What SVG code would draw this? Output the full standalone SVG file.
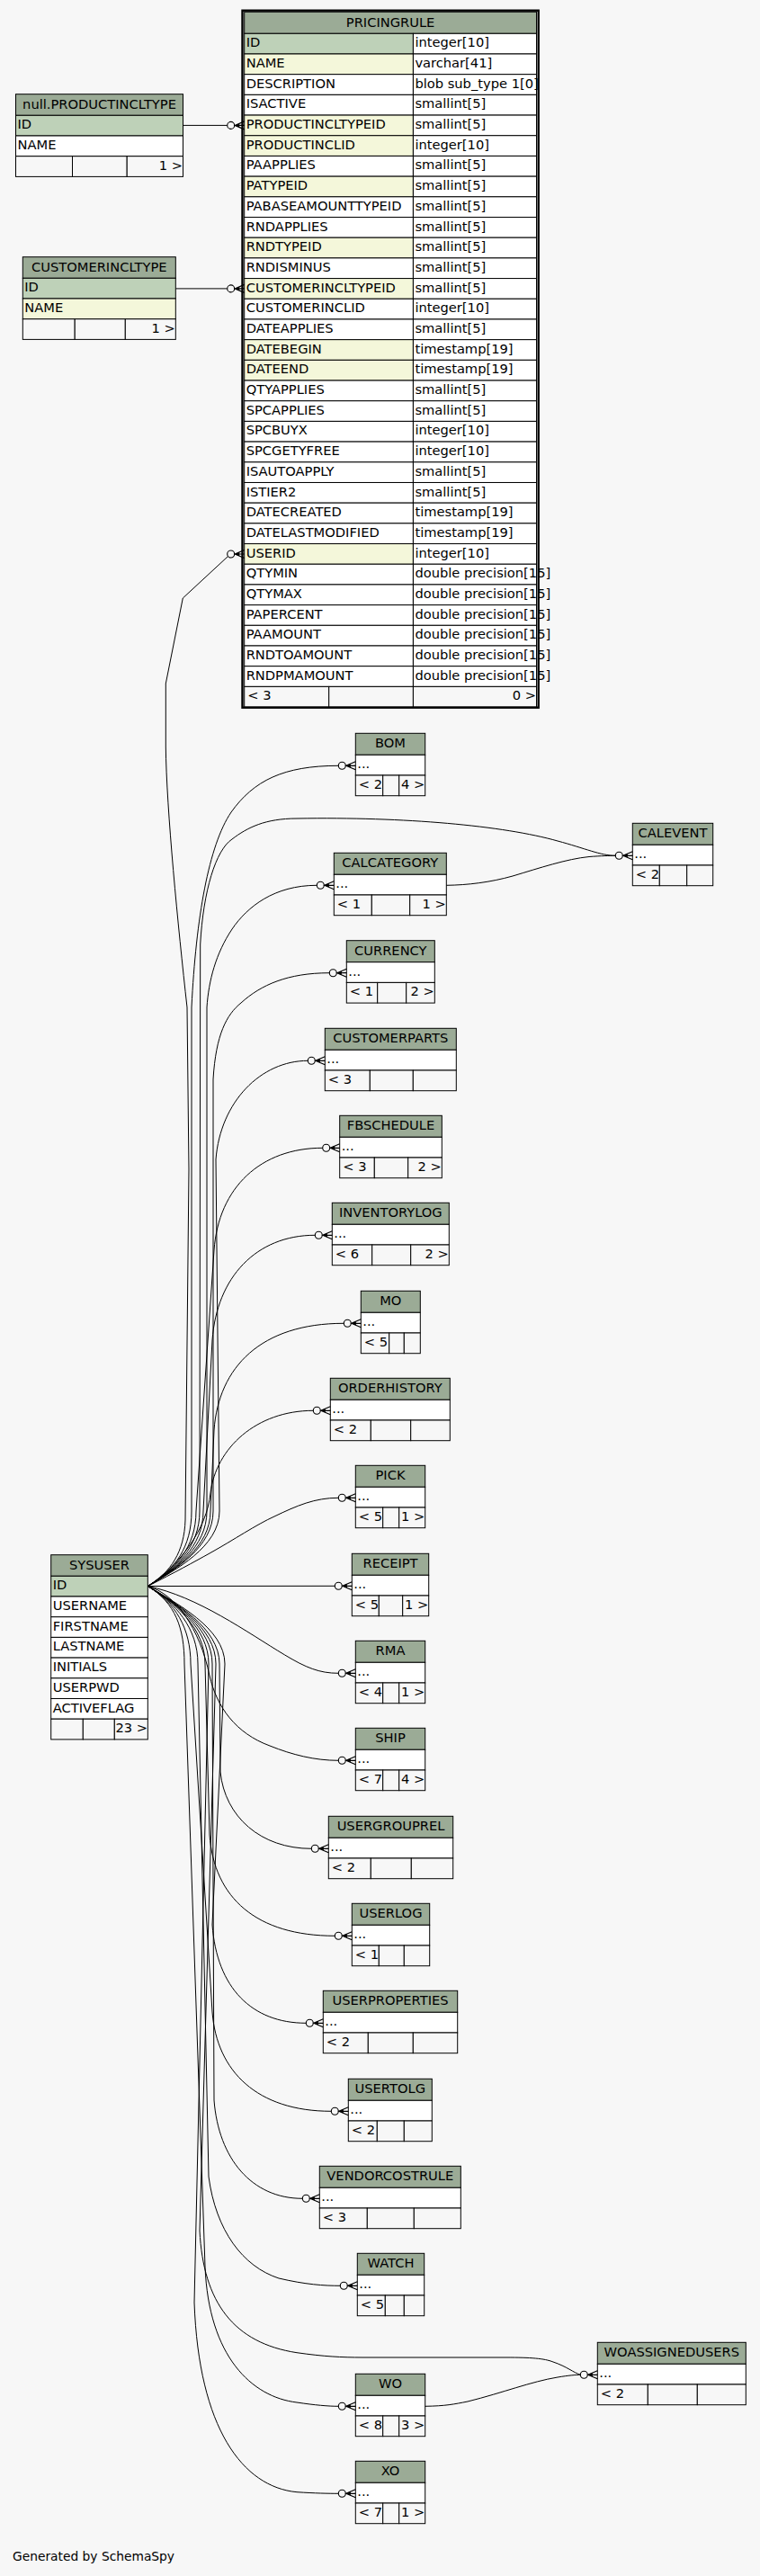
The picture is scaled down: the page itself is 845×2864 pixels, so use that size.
<svg xmlns="http://www.w3.org/2000/svg" width="845" height="2864" viewBox="0 0 845 2864">
<style>
text{font-family:"DejaVu Sans","Liberation Sans",sans-serif;font-size:14.67px;fill:#000}
.m{text-anchor:middle}.r{text-anchor:end}
.h{fill:#9bab96;stroke:#000;stroke-width:1}
.c{fill:#fff;stroke:#000;stroke-width:1}
.pk{fill:#bed1b8;stroke:#000;stroke-width:1}
.fk{fill:#f4f7da;stroke:#000;stroke-width:1}
.f{fill:#f7f7f7;stroke:#000;stroke-width:1}
.e{fill:none;stroke:#000;stroke-width:1}
.gen{font-size:13.8px}
</style>
<defs>
<g id="cf">
<circle cx="0" cy="0" r="4" fill="none" stroke="#000" stroke-width="1.1"/>
<path d="M15,-4.5 L4.5,0 L15,4.5 M4.5,0 H15" fill="none" stroke="#000" stroke-width="1.2"/>
<polygon points="4.5,0 9.5,-2.2 9.5,2.2" fill="#000"/>
</g>
</defs>
<rect x="0" y="0" width="845" height="2864" fill="#f7f7f7"/>

<g id="PRICINGRULE">
<rect class="h" x="271.7" y="13.3" width="324.8" height="24"/>
<g>
<rect class="pk" x="271.7" y="37.3" width="187.7" height="22.69"/><rect class="c" x="459.4" y="37.3" width="137.1" height="22.69"/>
<rect class="fk" x="271.7" y="59.99" width="187.7" height="22.69"/><rect class="c" x="459.4" y="59.99" width="137.1" height="22.69"/>
<rect class="c" x="271.7" y="82.68" width="187.7" height="22.69"/><rect class="c" x="459.4" y="82.68" width="137.1" height="22.69"/>
<rect class="c" x="271.7" y="105.37" width="187.7" height="22.69"/><rect class="c" x="459.4" y="105.37" width="137.1" height="22.69"/>
<rect class="fk" x="271.7" y="128.06" width="187.7" height="22.69"/><rect class="c" x="459.4" y="128.06" width="137.1" height="22.69"/>
<rect class="fk" x="271.7" y="150.75" width="187.7" height="22.69"/><rect class="c" x="459.4" y="150.75" width="137.1" height="22.69"/>
<rect class="c" x="271.7" y="173.44" width="187.7" height="22.69"/><rect class="c" x="459.4" y="173.44" width="137.1" height="22.69"/>
<rect class="fk" x="271.7" y="196.13" width="187.7" height="22.69"/><rect class="c" x="459.4" y="196.13" width="137.1" height="22.69"/>
<rect class="c" x="271.7" y="218.82" width="187.7" height="22.69"/><rect class="c" x="459.4" y="218.82" width="137.1" height="22.69"/>
<rect class="c" x="271.7" y="241.51" width="187.7" height="22.69"/><rect class="c" x="459.4" y="241.51" width="137.1" height="22.69"/>
<rect class="fk" x="271.7" y="264.2" width="187.7" height="22.69"/><rect class="c" x="459.4" y="264.2" width="137.1" height="22.69"/>
<rect class="c" x="271.7" y="286.89" width="187.7" height="22.69"/><rect class="c" x="459.4" y="286.89" width="137.1" height="22.69"/>
<rect class="fk" x="271.7" y="309.58" width="187.7" height="22.69"/><rect class="c" x="459.4" y="309.58" width="137.1" height="22.69"/>
<rect class="c" x="271.7" y="332.27" width="187.7" height="22.69"/><rect class="c" x="459.4" y="332.27" width="137.1" height="22.69"/>
<rect class="c" x="271.7" y="354.96" width="187.7" height="22.69"/><rect class="c" x="459.4" y="354.96" width="137.1" height="22.69"/>
<rect class="fk" x="271.7" y="377.65" width="187.7" height="22.69"/><rect class="c" x="459.4" y="377.65" width="137.1" height="22.69"/>
<rect class="fk" x="271.7" y="400.34" width="187.7" height="22.69"/><rect class="c" x="459.4" y="400.34" width="137.1" height="22.69"/>
<rect class="c" x="271.7" y="423.03" width="187.7" height="22.69"/><rect class="c" x="459.4" y="423.03" width="137.1" height="22.69"/>
<rect class="c" x="271.7" y="445.72" width="187.7" height="22.69"/><rect class="c" x="459.4" y="445.72" width="137.1" height="22.69"/>
<rect class="c" x="271.7" y="468.41" width="187.7" height="22.69"/><rect class="c" x="459.4" y="468.41" width="137.1" height="22.69"/>
<rect class="c" x="271.7" y="491.1" width="187.7" height="22.69"/><rect class="c" x="459.4" y="491.1" width="137.1" height="22.69"/>
<rect class="c" x="271.7" y="513.79" width="187.7" height="22.69"/><rect class="c" x="459.4" y="513.79" width="137.1" height="22.69"/>
<rect class="c" x="271.7" y="536.48" width="187.7" height="22.69"/><rect class="c" x="459.4" y="536.48" width="137.1" height="22.69"/>
<rect class="c" x="271.7" y="559.17" width="187.7" height="22.69"/><rect class="c" x="459.4" y="559.17" width="137.1" height="22.69"/>
<rect class="c" x="271.7" y="581.86" width="187.7" height="22.69"/><rect class="c" x="459.4" y="581.86" width="137.1" height="22.69"/>
<rect class="fk" x="271.7" y="604.55" width="187.7" height="22.69"/><rect class="c" x="459.4" y="604.55" width="137.1" height="22.69"/>
<rect class="c" x="271.7" y="627.24" width="187.7" height="22.69"/><rect class="c" x="459.4" y="627.24" width="137.1" height="22.69"/>
<rect class="c" x="271.7" y="649.93" width="187.7" height="22.69"/><rect class="c" x="459.4" y="649.93" width="137.1" height="22.69"/>
<rect class="c" x="271.7" y="672.62" width="187.7" height="22.69"/><rect class="c" x="459.4" y="672.62" width="137.1" height="22.69"/>
<rect class="c" x="271.7" y="695.31" width="187.7" height="22.69"/><rect class="c" x="459.4" y="695.31" width="137.1" height="22.69"/>
<rect class="c" x="271.7" y="718" width="187.7" height="22.69"/><rect class="c" x="459.4" y="718" width="137.1" height="22.69"/>
<rect class="c" x="271.7" y="740.69" width="187.7" height="22.69"/><rect class="c" x="459.4" y="740.69" width="137.1" height="22.69"/>
<rect class="f" x="271.7" y="763.38" width="94" height="22.69"/><rect class="f" x="365.7" y="763.38" width="93.7" height="22.69"/><rect class="f" x="459.4" y="763.38" width="137.1" height="22.69"/>
</g>
<text class="m" x="434.1" y="29.6">PRICINGRULE</text>
<text x="273.7" y="52.3">ID</text><text x="461.4" y="52.3">integer[10]</text>
<text x="273.7" y="75">NAME</text><text x="461.4" y="75">varchar[41]</text>
<text x="273.7" y="97.7">DESCRIPTION</text><text x="461.4" y="97.7">blob sub_type 1[0]</text>
<text x="273.7" y="120.4">ISACTIVE</text><text x="461.4" y="120.4">smallint[5]</text>
<text x="273.7" y="143.1">PRODUCTINCLTYPEID</text><text x="461.4" y="143.1">smallint[5]</text>
<text x="273.7" y="165.8">PRODUCTINCLID</text><text x="461.4" y="165.8">integer[10]</text>
<text x="273.7" y="188.4">PAAPPLIES</text><text x="461.4" y="188.4">smallint[5]</text>
<text x="273.7" y="211.1">PATYPEID</text><text x="461.4" y="211.1">smallint[5]</text>
<text x="273.7" y="233.8">PABASEAMOUNTTYPEID</text><text x="461.4" y="233.8">smallint[5]</text>
<text x="273.7" y="256.5">RNDAPPLIES</text><text x="461.4" y="256.5">smallint[5]</text>
<text x="273.7" y="279.2">RNDTYPEID</text><text x="461.4" y="279.2">smallint[5]</text>
<text x="273.7" y="301.9">RNDISMINUS</text><text x="461.4" y="301.9">smallint[5]</text>
<text x="273.7" y="324.6">CUSTOMERINCLTYPEID</text><text x="461.4" y="324.6">smallint[5]</text>
<text x="273.7" y="347.3">CUSTOMERINCLID</text><text x="461.4" y="347.3">integer[10]</text>
<text x="273.7" y="370">DATEAPPLIES</text><text x="461.4" y="370">smallint[5]</text>
<text x="273.7" y="392.7">DATEBEGIN</text><text x="461.4" y="392.7">timestamp[19]</text>
<text x="273.7" y="415.3">DATEEND</text><text x="461.4" y="415.3">timestamp[19]</text>
<text x="273.7" y="438">QTYAPPLIES</text><text x="461.4" y="438">smallint[5]</text>
<text x="273.7" y="460.7">SPCAPPLIES</text><text x="461.4" y="460.7">smallint[5]</text>
<text x="273.7" y="483.4">SPCBUYX</text><text x="461.4" y="483.4">integer[10]</text>
<text x="273.7" y="506.1">SPCGETYFREE</text><text x="461.4" y="506.1">integer[10]</text>
<text x="273.7" y="528.8">ISAUTOAPPLY</text><text x="461.4" y="528.8">smallint[5]</text>
<text x="273.7" y="551.5">ISTIER2</text><text x="461.4" y="551.5">smallint[5]</text>
<text x="273.7" y="574.2">DATECREATED</text><text x="461.4" y="574.2">timestamp[19]</text>
<text x="273.7" y="596.9">DATELASTMODIFIED</text><text x="461.4" y="596.9">timestamp[19]</text>
<text x="273.7" y="619.6">USERID</text><text x="461.4" y="619.6">integer[10]</text>
<text x="273.7" y="642.2">QTYMIN</text><text x="461.4" y="642.2">double precision[15]</text>
<text x="273.7" y="664.9">QTYMAX</text><text x="461.4" y="664.9">double precision[15]</text>
<text x="273.7" y="687.6">PAPERCENT</text><text x="461.4" y="687.6">double precision[15]</text>
<text x="273.7" y="710.3">PAAMOUNT</text><text x="461.4" y="710.3">double precision[15]</text>
<text x="273.7" y="733">RNDTOAMOUNT</text><text x="461.4" y="733">double precision[15]</text>
<text x="273.7" y="755.7">RNDPMAMOUNT</text><text x="461.4" y="755.7">double precision[15]</text>
<text x="275.2" y="778.4">&lt; 3</text><text class="r" x="596" y="778.4">0 &gt;</text>
<rect x="269.5" y="11.7" width="329.2" height="775" fill="none" stroke="#000" stroke-width="2.4"/>
</g>

<g id="PRODUCTINCLTYPE">
<rect class="h" x="17.5" y="104.7" width="186" height="23.6"/>
<rect class="pk" x="17.5" y="128.3" width="186" height="22.7"/>
<rect class="c" x="17.5" y="151" width="186" height="22.7"/>
<rect class="f" x="17.5" y="173.7" width="63" height="22.7"/><rect class="f" x="80.5" y="173.7" width="60.7" height="22.7"/><rect class="f" x="141.2" y="173.7" width="62.3" height="22.7"/>
<text class="m" x="110.5" y="120.7">null.PRODUCTINCLTYPE</text>
<text x="19.5" y="143.3">ID</text>
<text x="19.5" y="166">NAME</text>
<text class="r" x="203" y="188.7">1 &gt;</text>
</g>

<g id="CUSTOMERINCLTYPE">
<rect class="h" x="25.3" y="285.7" width="170" height="23.6"/>
<rect class="pk" x="25.3" y="309.3" width="170" height="22.7"/>
<rect class="fk" x="25.3" y="332" width="170" height="22.7"/>
<rect class="f" x="25.3" y="354.7" width="57.9" height="22.7"/><rect class="f" x="83.2" y="354.7" width="56.1" height="22.7"/><rect class="f" x="139.3" y="354.7" width="56" height="22.7"/>
<text class="m" x="110.3" y="301.7">CUSTOMERINCLTYPE</text>
<text x="27.3" y="324.3">ID</text>
<text x="27.3" y="347">NAME</text>
<text class="r" x="194.8" y="369.7">1 &gt;</text>
</g>

<g id="SYSUSER">
<rect class="h" x="56.7" y="1728.7" width="107.6" height="23.6"/>
<rect class="pk" x="56.7" y="1752.3" width="107.6" height="22.7"/>
<rect class="c" x="56.7" y="1775" width="107.6" height="22.7"/>
<rect class="c" x="56.7" y="1797.7" width="107.6" height="22.7"/>
<rect class="c" x="56.7" y="1820.4" width="107.6" height="22.7"/>
<rect class="c" x="56.7" y="1843.1" width="107.6" height="22.7"/>
<rect class="c" x="56.7" y="1865.8" width="107.6" height="22.7"/>
<rect class="c" x="56.7" y="1888.5" width="107.6" height="22.7"/>
<rect class="f" x="56.7" y="1911.2" width="35.6" height="22.7"/><rect class="f" x="92.3" y="1911.2" width="35" height="22.7"/><rect class="f" x="127.3" y="1911.2" width="37" height="22.7"/>
<text class="m" x="110.5" y="1744.7">SYSUSER</text>
<text x="58.7" y="1767.3">ID</text>
<text x="58.7" y="1790">USERNAME</text>
<text x="58.7" y="1812.7">FIRSTNAME</text>
<text x="58.7" y="1835.4">LASTNAME</text>
<text x="58.7" y="1858.1">INITIALS</text>
<text x="58.7" y="1880.8">USERPWD</text>
<text x="58.7" y="1903.5">ACTIVEFLAG</text>
<text class="r" x="164" y="1926.2">23 &gt;</text>
</g>

<g id="BOM">
<rect class="h" x="395.3" y="815.3" width="77.4" height="24"/><rect class="c" x="395.3" y="839.3" width="77.4" height="22.7"/>
<rect class="f" x="395.3" y="862" width="30.4" height="22.7"/><rect class="f" x="425.7" y="862" width="18" height="22.7"/><rect class="f" x="443.7" y="862" width="29" height="22.7"/>
<text class="m" x="434" y="831.3">BOM</text><text x="397.3" y="854.3">...</text>
<text x="398.8" y="877">&lt; 2</text><text class="r" x="472.2" y="877">4 &gt;</text>
</g>
<g id="CALEVENT">
<rect class="h" x="703.3" y="915.3" width="89.4" height="24"/><rect class="c" x="703.3" y="939.3" width="89.4" height="22.7"/>
<rect class="f" x="703.3" y="962" width="30" height="22.7"/><rect class="f" x="733.3" y="962" width="30.4" height="22.7"/><rect class="f" x="763.7" y="962" width="29" height="22.7"/>
<text class="m" x="748" y="931.3">CALEVENT</text><text x="705.3" y="954.3">...</text>
<text x="706.8" y="977">&lt; 2</text>
</g>
<g id="CALCATEGORY">
<rect class="h" x="371.3" y="948.3" width="125" height="24"/><rect class="c" x="371.3" y="972.3" width="125" height="22.7"/>
<rect class="f" x="371.3" y="995" width="42" height="22.7"/><rect class="f" x="413.3" y="995" width="42.4" height="22.7"/><rect class="f" x="455.7" y="995" width="40.6" height="22.7"/>
<text class="m" x="433.8" y="964.3">CALCATEGORY</text><text x="373.3" y="987.3">...</text>
<text x="374.8" y="1010">&lt; 1</text><text class="r" x="495.8" y="1010">1 &gt;</text>
</g>
<g id="CURRENCY">
<rect class="h" x="385.3" y="1045.7" width="98" height="24"/><rect class="c" x="385.3" y="1069.7" width="98" height="22.7"/>
<rect class="f" x="385.3" y="1092.4" width="34.4" height="22.7"/><rect class="f" x="419.7" y="1092.4" width="32" height="22.7"/><rect class="f" x="451.7" y="1092.4" width="31.6" height="22.7"/>
<text class="m" x="434.3" y="1061.7">CURRENCY</text><text x="387.3" y="1084.7">...</text>
<text x="388.8" y="1107.4">&lt; 1</text><text class="r" x="482.8" y="1107.4">2 &gt;</text>
</g>
<g id="CUSTOMERPARTS">
<rect class="h" x="361.3" y="1143.3" width="146" height="24"/><rect class="c" x="361.3" y="1167.3" width="146" height="22.7"/>
<rect class="f" x="361.3" y="1190" width="50" height="22.7"/><rect class="f" x="411.3" y="1190" width="48" height="22.7"/><rect class="f" x="459.3" y="1190" width="48" height="22.7"/>
<text class="m" x="434.3" y="1159.3">CUSTOMERPARTS</text><text x="363.3" y="1182.3">...</text>
<text x="364.8" y="1205">&lt; 3</text>
</g>
<g id="FBSCHEDULE">
<rect class="h" x="377.7" y="1240.3" width="113.6" height="24"/><rect class="c" x="377.7" y="1264.3" width="113.6" height="22.7"/>
<rect class="f" x="377.7" y="1287" width="38.6" height="22.7"/><rect class="f" x="416.3" y="1287" width="37.4" height="22.7"/><rect class="f" x="453.7" y="1287" width="37.6" height="22.7"/>
<text class="m" x="434.5" y="1256.3">FBSCHEDULE</text><text x="379.7" y="1279.3">...</text>
<text x="381.2" y="1302">&lt; 3</text><text class="r" x="490.8" y="1302">2 &gt;</text>
</g>
<g id="INVENTORYLOG">
<rect class="h" x="369.3" y="1337.3" width="130" height="24"/><rect class="c" x="369.3" y="1361.3" width="130" height="22.7"/>
<rect class="f" x="369.3" y="1384" width="44.4" height="22.7"/><rect class="f" x="413.7" y="1384" width="43" height="22.7"/><rect class="f" x="456.7" y="1384" width="42.6" height="22.7"/>
<text class="m" x="434.3" y="1353.3">INVENTORYLOG</text><text x="371.3" y="1376.3">...</text>
<text x="372.8" y="1399">&lt; 6</text><text class="r" x="498.8" y="1399">2 &gt;</text>
</g>
<g id="MO">
<rect class="h" x="401.3" y="1435.3" width="66" height="24"/><rect class="c" x="401.3" y="1459.3" width="66" height="22.7"/>
<rect class="f" x="401.3" y="1482" width="31.4" height="22.7"/><rect class="f" x="432.7" y="1482" width="16.6" height="22.7"/><rect class="f" x="449.3" y="1482" width="18" height="22.7"/>
<text class="m" x="434.3" y="1451.3">MO</text><text x="403.3" y="1474.3">...</text>
<text x="404.8" y="1497">&lt; 5</text>
</g>
<g id="ORDERHISTORY">
<rect class="h" x="367.3" y="1532.3" width="133" height="24"/><rect class="c" x="367.3" y="1556.3" width="133" height="22.7"/>
<rect class="f" x="367.3" y="1579" width="45" height="22.7"/><rect class="f" x="412.3" y="1579" width="44.4" height="22.7"/><rect class="f" x="456.7" y="1579" width="43.6" height="22.7"/>
<text class="m" x="433.8" y="1548.3">ORDERHISTORY</text><text x="369.3" y="1571.3">...</text>
<text x="370.8" y="1594">&lt; 2</text>
</g>
<g id="PICK">
<rect class="h" x="395.3" y="1629.3" width="77.4" height="24"/><rect class="c" x="395.3" y="1653.3" width="77.4" height="22.7"/>
<rect class="f" x="395.3" y="1676" width="30.4" height="22.7"/><rect class="f" x="425.7" y="1676" width="18" height="22.7"/><rect class="f" x="443.7" y="1676" width="29" height="22.7"/>
<text class="m" x="434" y="1645.3">PICK</text><text x="397.3" y="1668.3">...</text>
<text x="398.8" y="1691">&lt; 5</text><text class="r" x="472.2" y="1691">1 &gt;</text>
</g>
<g id="RECEIPT">
<rect class="h" x="391.3" y="1727.3" width="85.4" height="24"/><rect class="c" x="391.3" y="1751.3" width="85.4" height="22.7"/>
<rect class="f" x="391.3" y="1774" width="30" height="22.7"/><rect class="f" x="421.3" y="1774" width="26.4" height="22.7"/><rect class="f" x="447.7" y="1774" width="29" height="22.7"/>
<text class="m" x="434" y="1743.3">RECEIPT</text><text x="393.3" y="1766.3">...</text>
<text x="394.8" y="1789">&lt; 5</text><text class="r" x="476.2" y="1789">1 &gt;</text>
</g>
<g id="RMA">
<rect class="h" x="395.3" y="1824.3" width="77.4" height="24"/><rect class="c" x="395.3" y="1848.3" width="77.4" height="22.7"/>
<rect class="f" x="395.3" y="1871" width="30.4" height="22.7"/><rect class="f" x="425.7" y="1871" width="18" height="22.7"/><rect class="f" x="443.7" y="1871" width="29" height="22.7"/>
<text class="m" x="434" y="1840.3">RMA</text><text x="397.3" y="1863.3">...</text>
<text x="398.8" y="1886">&lt; 4</text><text class="r" x="472.2" y="1886">1 &gt;</text>
</g>
<g id="SHIP">
<rect class="h" x="395.3" y="1921.3" width="77.4" height="24"/><rect class="c" x="395.3" y="1945.3" width="77.4" height="22.7"/>
<rect class="f" x="395.3" y="1968" width="30.4" height="22.7"/><rect class="f" x="425.7" y="1968" width="18" height="22.7"/><rect class="f" x="443.7" y="1968" width="29" height="22.7"/>
<text class="m" x="434" y="1937.3">SHIP</text><text x="397.3" y="1960.3">...</text>
<text x="398.8" y="1983">&lt; 7</text><text class="r" x="472.2" y="1983">4 &gt;</text>
</g>
<g id="USERGROUPREL">
<rect class="h" x="365.3" y="2019.3" width="138.4" height="24"/><rect class="c" x="365.3" y="2043.3" width="138.4" height="22.7"/>
<rect class="f" x="365.3" y="2066" width="47" height="22.7"/><rect class="f" x="412.3" y="2066" width="45" height="22.7"/><rect class="f" x="457.3" y="2066" width="46.4" height="22.7"/>
<text class="m" x="434.5" y="2035.3">USERGROUPREL</text><text x="367.3" y="2058.3">...</text>
<text x="368.8" y="2081">&lt; 2</text>
</g>
<g id="USERLOG">
<rect class="h" x="391.3" y="2116.3" width="86.4" height="24"/><rect class="c" x="391.3" y="2140.3" width="86.4" height="22.7"/>
<rect class="f" x="391.3" y="2163" width="30" height="22.7"/><rect class="f" x="421.3" y="2163" width="28" height="22.7"/><rect class="f" x="449.3" y="2163" width="28.4" height="22.7"/>
<text class="m" x="434.5" y="2132.3">USERLOG</text><text x="393.3" y="2155.3">...</text>
<text x="394.8" y="2178">&lt; 1</text>
</g>
<g id="USERPROPERTIES">
<rect class="h" x="359.3" y="2213.3" width="149.4" height="24"/><rect class="c" x="359.3" y="2237.3" width="149.4" height="22.7"/>
<rect class="f" x="359.3" y="2260" width="50" height="22.7"/><rect class="f" x="409.3" y="2260" width="50" height="22.7"/><rect class="f" x="459.3" y="2260" width="49.4" height="22.7"/>
<text class="m" x="434" y="2229.3">USERPROPERTIES</text><text x="361.3" y="2252.3">...</text>
<text x="362.8" y="2275">&lt; 2</text>
</g>
<g id="USERTOLG">
<rect class="h" x="387.3" y="2311.3" width="93" height="24"/><rect class="c" x="387.3" y="2335.3" width="93" height="22.7"/>
<rect class="f" x="387.3" y="2358" width="32" height="22.7"/><rect class="f" x="419.3" y="2358" width="30" height="22.7"/><rect class="f" x="449.3" y="2358" width="31" height="22.7"/>
<text class="m" x="433.8" y="2327.3">USERTOLG</text><text x="389.3" y="2350.3">...</text>
<text x="390.8" y="2373">&lt; 2</text>
</g>
<g id="VENDORCOSTRULE">
<rect class="h" x="355.3" y="2408.3" width="157" height="24"/><rect class="c" x="355.3" y="2432.3" width="157" height="22.7"/>
<rect class="f" x="355.3" y="2455" width="53" height="22.7"/><rect class="f" x="408.3" y="2455" width="52" height="22.7"/><rect class="f" x="460.3" y="2455" width="52" height="22.7"/>
<text class="m" x="433.8" y="2424.3">VENDORCOSTRULE</text><text x="357.3" y="2447.3">...</text>
<text x="358.8" y="2470">&lt; 3</text>
</g>
<g id="WATCH">
<rect class="h" x="397.3" y="2505.3" width="74.4" height="24"/><rect class="c" x="397.3" y="2529.3" width="74.4" height="22.7"/>
<rect class="f" x="397.3" y="2552" width="31" height="22.7"/><rect class="f" x="428.3" y="2552" width="21" height="22.7"/><rect class="f" x="449.3" y="2552" width="22.4" height="22.7"/>
<text class="m" x="434.5" y="2521.3">WATCH</text><text x="399.3" y="2544.3">...</text>
<text x="400.8" y="2567">&lt; 5</text>
</g>
<g id="WOASSIGNEDUSERS">
<rect class="h" x="664.3" y="2604.3" width="165" height="24"/><rect class="c" x="664.3" y="2628.3" width="165" height="22.7"/>
<rect class="f" x="664.3" y="2651" width="56" height="22.7"/><rect class="f" x="720.3" y="2651" width="55" height="22.7"/><rect class="f" x="775.3" y="2651" width="54" height="22.7"/>
<text class="m" x="746.8" y="2620.3">WOASSIGNEDUSERS</text><text x="666.3" y="2643.3">...</text>
<text x="667.8" y="2666">&lt; 2</text>
</g>
<g id="WO">
<rect class="h" x="395.3" y="2639.3" width="77.4" height="24"/><rect class="c" x="395.3" y="2663.3" width="77.4" height="22.7"/>
<rect class="f" x="395.3" y="2686" width="30.4" height="22.7"/><rect class="f" x="425.7" y="2686" width="18" height="22.7"/><rect class="f" x="443.7" y="2686" width="29" height="22.7"/>
<text class="m" x="434" y="2655.3">WO</text><text x="397.3" y="2678.3">...</text>
<text x="398.8" y="2701">&lt; 8</text><text class="r" x="472.2" y="2701">3 &gt;</text>
</g>
<g id="XO">
<rect class="h" x="395.3" y="2736.3" width="77.4" height="24"/><rect class="c" x="395.3" y="2760.3" width="77.4" height="22.7"/>
<rect class="f" x="395.3" y="2783" width="30.4" height="22.7"/><rect class="f" x="425.7" y="2783" width="18" height="22.7"/><rect class="f" x="443.7" y="2783" width="29" height="22.7"/>
<text class="m" x="434" y="2752.3">XO</text><text x="397.3" y="2775.3">...</text>
<text x="398.8" y="2798">&lt; 7</text><text class="r" x="472.2" y="2798">1 &gt;</text>
</g>

<g id="edges">
<path class="e" d="M203.5,139.4 L252.7,139.4"/>
<path class="e" d="M195.3,320.9 L252.7,320.9"/>
<path class="e" d="M164.3,1763.5 C190,1748 205,1725 206,1690 L210,1300 L208,1120 C198,1030 185,900 184.3,830 L184.3,760 L203.3,665 L253.4,618.6"/>
<path class="e" d="M164.3,1763.5 C195,1745 213,1720 213,1680 L213,1120 C218,1020 232,940 257,903 C282,868 315,851.3 376.3,851.3"/>
<path class="e" d="M164.3,1763.5 C195,1745 222,1720 222,1680 L222.7,1050 C226,990 240,945 258,933 C275,920 295,910 330,910 C450,908 560,918 620,935 C650,943 668,951.3 684.3,951.3"/>
<path class="e" d="M164.3,1763.5 C195,1745 230,1720 230,1680 L230,1120 C232,1090 240,1060 258,1033 C275,1008 305,984.3 352.3,984.3"/>
<path class="e" d="M164.3,1763.5 C195,1745 237,1720 237,1680 L237,1200 C240,1150 252,1128 268,1115 C290,1095 320,1081.7 366.3,1081.7"/>
<path class="e" d="M164.3,1763.5 C195,1745 244,1720 244,1680 L240,1289 C245,1225 290,1179.3 342.3,1179.3"/>
<path class="e" d="M164.3,1763.5 C195,1745 218,1720 218,1680 L238,1390 C243,1320 290,1276.3 358.7,1276.3"/>
<path class="e" d="M164.3,1763.5 C195,1745 226,1720 226,1680 L236,1490 C241,1420 285,1373.3 350.3,1373.3"/>
<path class="e" d="M164.3,1763.5 C195,1745 234,1720 234,1680 L238,1590 C243,1520 290,1471.3 382.3,1471.3"/>
<path class="e" d="M164.3,1763.5 C200,1740 230,1700 234,1660 C240,1610 285,1568.3 348.3,1568.3"/>
<path class="e" d="M164.3,1763.5 C195,1748 215,1737 233,1727 C260,1712 285,1695 305,1686 C330,1674 350,1665.3 376.3,1665.3"/>
<path class="e" d="M164.3,1763.5 L372.3,1763.3"/>
<path class="e" d="M164.3,1763.5 C220,1775 275,1815 316.7,1840 C340,1854 355,1860.3 376.3,1860.3"/>
<path class="e" d="M164.3,1763.5 C195,1772 222,1810 233,1863 C241,1898 262,1927 300,1941 C325,1951 350,1957.3 376.3,1957.3"/>
<path class="e" d="M164.3,1763.5 C195,1782 244,1810 244,1850 L245,1970 C250,2020 290,2055.3 346.3,2055.3"/>
<path class="e" d="M164.3,1763.5 C195,1782 228,1810 228,1850 L233,2040 C238,2110 285,2152.3 372.3,2152.3"/>
<path class="e" d="M164.3,1763.5 C195,1782 250,1810 250,1850 L236,2140 C241,2210 280,2249.3 340.3,2249.3"/>
<path class="e" d="M164.3,1763.5 C195,1782 212,1810 212,1850 L236,2237 C241,2303 286,2347.3 368.3,2347.3"/>
<path class="e" d="M164.3,1763.5 C195,1782 236,1810 236,1850 L238,2335 C243,2400 280,2444.3 336.3,2444.3"/>
<path class="e" d="M164.3,1763.5 C195,1782 220,1810 220,1850 L232,2420 C240,2480 270,2520 310,2533 C340,2540 360,2541.3 378.3,2541.3"/>
<path class="e" d="M164.3,1763.5 C195,1782 240,1810 240,1850 L222,2480 C226,2560 260,2605 330,2615.7 C360,2620 380,2621 403,2621 L563,2621 C590,2621 605,2622 615,2626 C630,2631 638,2638 645.3,2640.3"/>
<path class="e" d="M164.3,1763.5 C195,1782 205,1810 205,1850 L228,2520 C232,2620 280,2665 330,2671 C350,2674 365,2675.3 376.3,2675.3"/>
<path class="e" d="M164.3,1763.5 C195,1782 232,1810 232,1850 L216,2560 C221,2700 270,2765 330,2770.7 C350,2772 365,2772.3 376.3,2772.3"/>
<path class="e" d="M472.7,2675.3 C495,2675 505,2673 520,2670 C560,2660 590,2648 620,2643 C632,2641 640,2640.3 645.3,2640.3"/>
<path class="e" d="M496.3,984.3 C520,984 545,981 570,974 C600,965 630,955 655,952.5 C668,951.5 678,951.3 684.3,951.3"/>
<use href="#cf" x="256.7" y="139.4"/>
<use href="#cf" x="256.7" y="320.9"/>
<use href="#cf" x="256.7" y="616"/>
<use href="#cf" x="380.3" y="851.3"/>
<use href="#cf" x="688.3" y="951.3"/>
<use href="#cf" x="356.3" y="984.3"/>
<use href="#cf" x="370.3" y="1081.7"/>
<use href="#cf" x="346.3" y="1179.3"/>
<use href="#cf" x="362.7" y="1276.3"/>
<use href="#cf" x="354.3" y="1373.3"/>
<use href="#cf" x="386.3" y="1471.3"/>
<use href="#cf" x="352.3" y="1568.3"/>
<use href="#cf" x="380.3" y="1665.3"/>
<use href="#cf" x="376.3" y="1763.3"/>
<use href="#cf" x="380.3" y="1860.3"/>
<use href="#cf" x="380.3" y="1957.3"/>
<use href="#cf" x="350.3" y="2055.3"/>
<use href="#cf" x="376.3" y="2152.3"/>
<use href="#cf" x="344.3" y="2249.3"/>
<use href="#cf" x="372.3" y="2347.3"/>
<use href="#cf" x="340.3" y="2444.3"/>
<use href="#cf" x="382.3" y="2541.3"/>
<use href="#cf" x="649.3" y="2640.3"/>
<use href="#cf" x="380.3" y="2675.3"/>
<use href="#cf" x="380.3" y="2772.3"/>
</g>

<text class="gen" x="14" y="2847">Generated by SchemaSpy</text>
</svg>
